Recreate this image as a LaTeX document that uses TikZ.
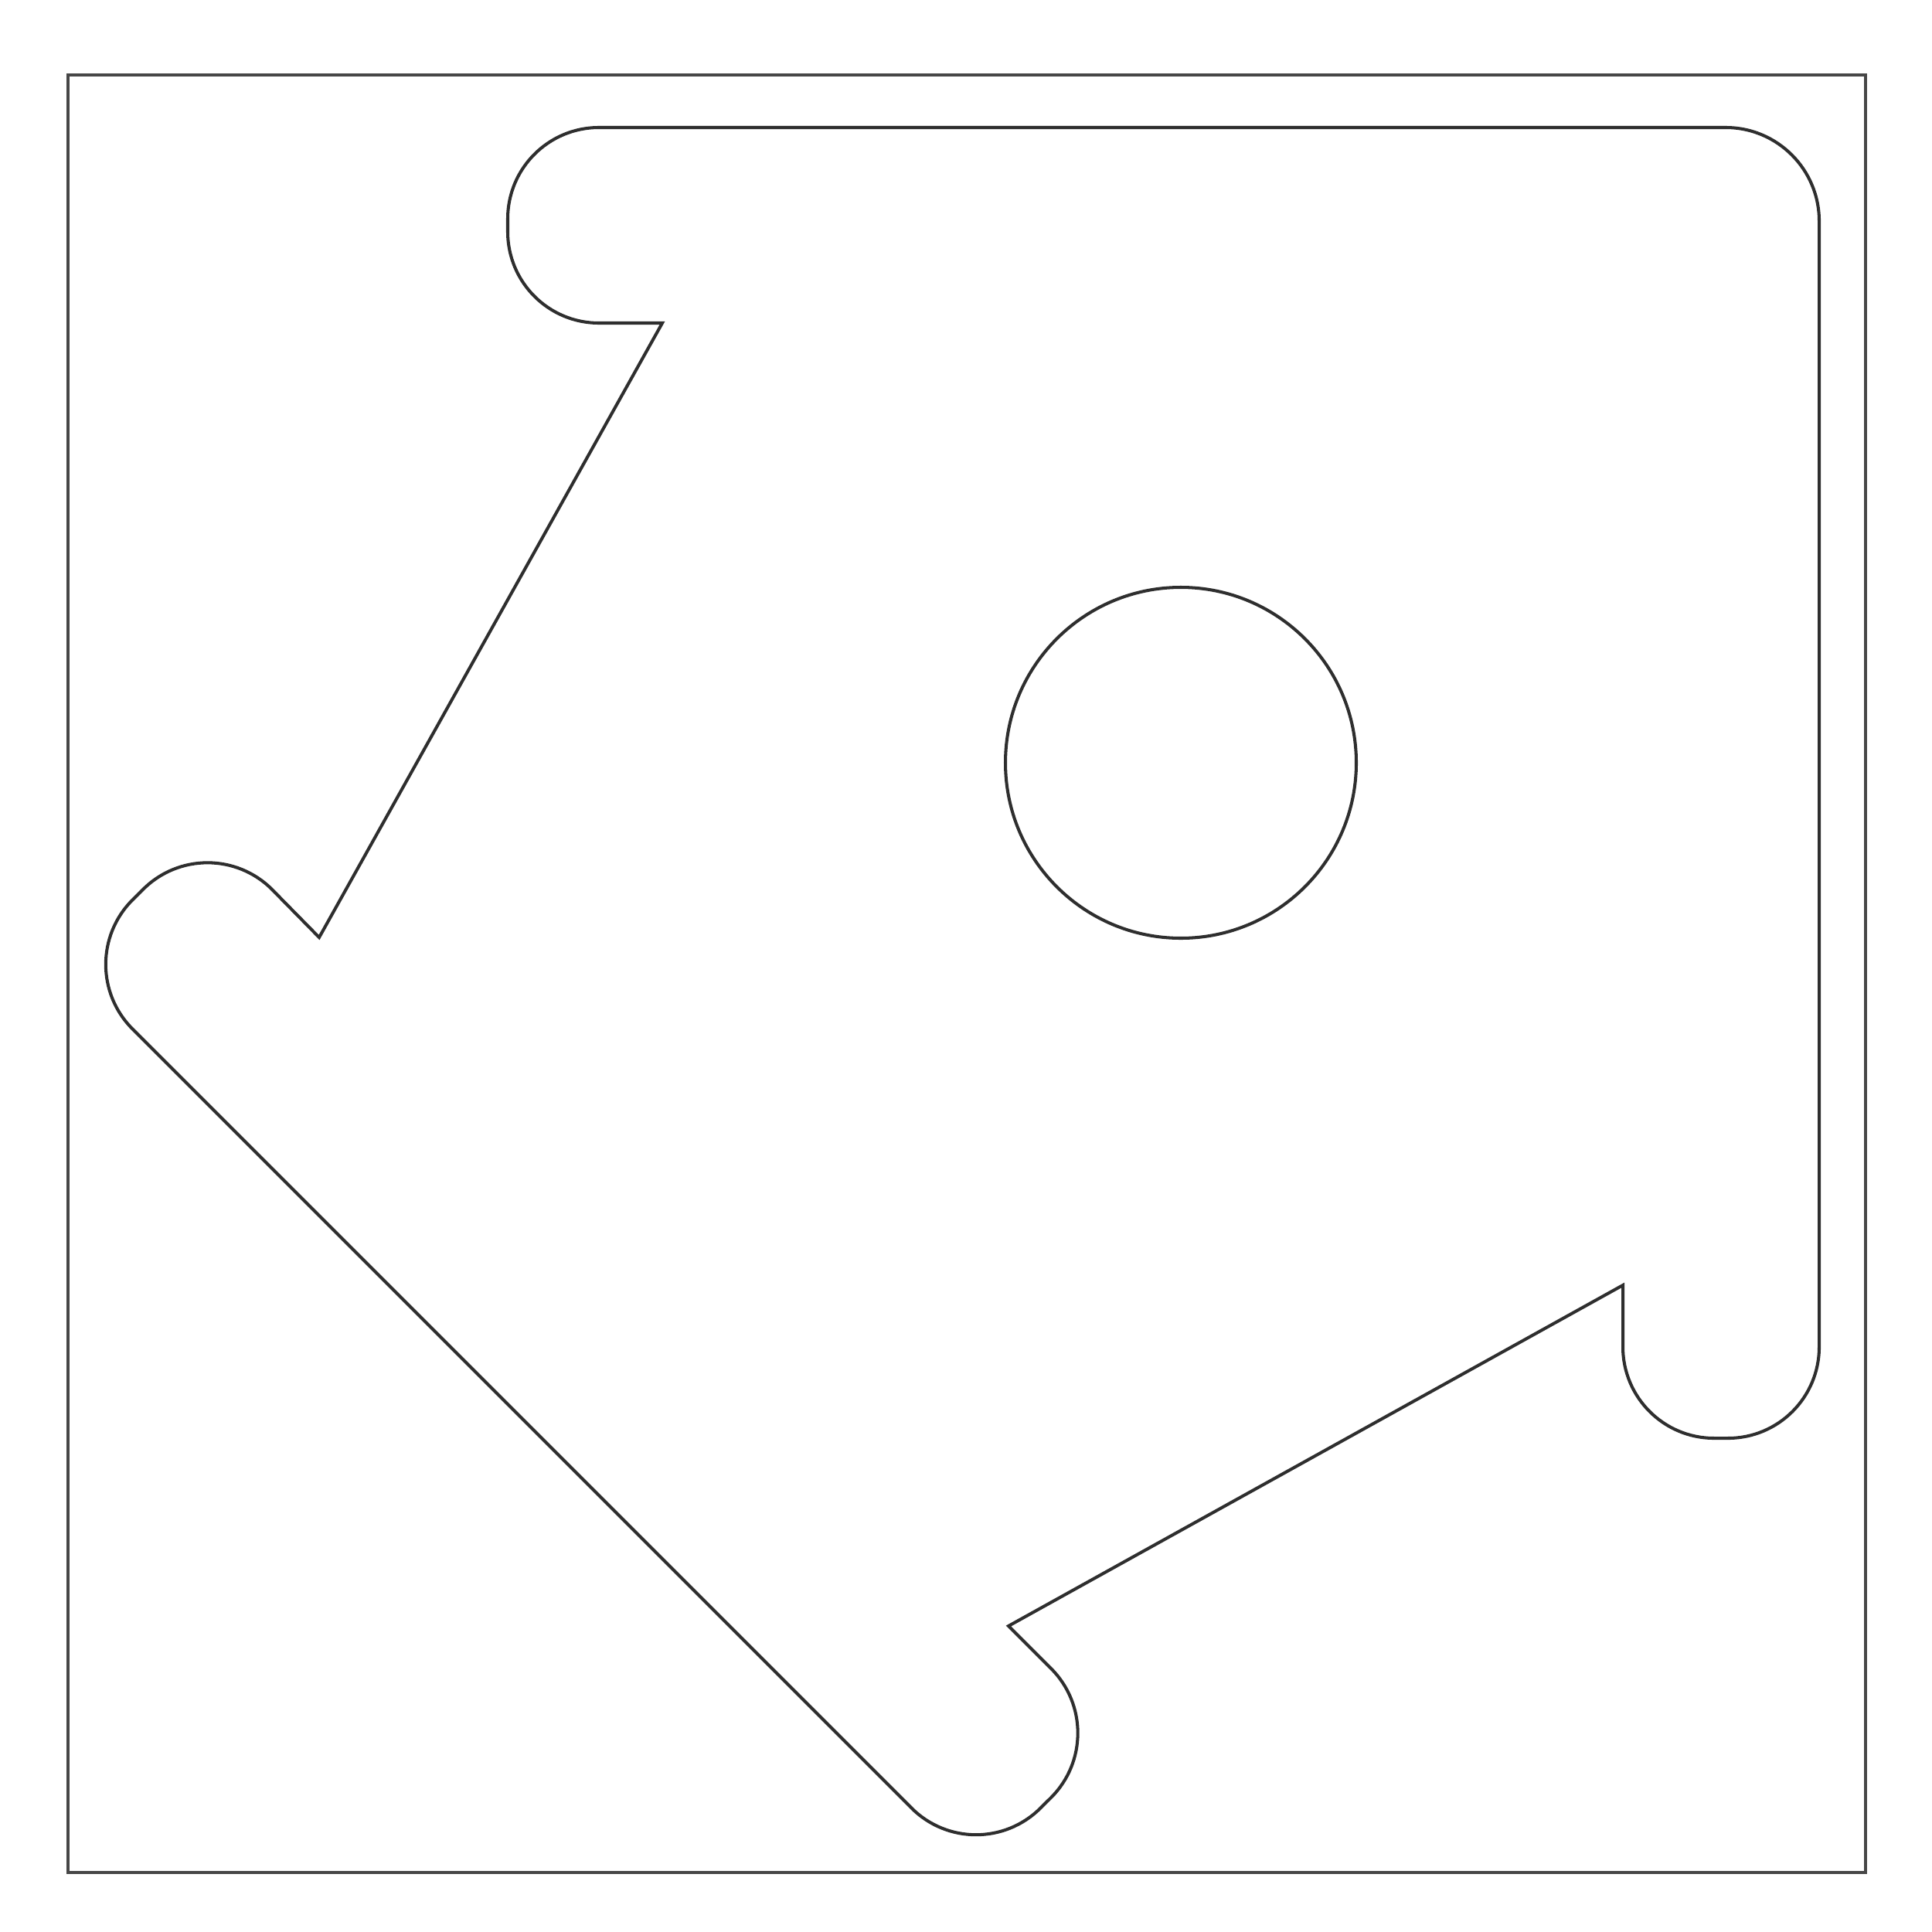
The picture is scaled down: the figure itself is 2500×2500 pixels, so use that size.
\documentclass[tikz,border=0pt]{standalone}
\begin{document}
\begin{tikzpicture}[x=0.01cm,y=-0.01cm,
  shapeline/.style={draw=black!82,line width=1.15pt,line join=miter},
  frameline/.style={draw=black!72,line width=1.05pt}]
\useasboundingbox (0,0) rectangle (2500,2500);
% frame
\draw[frameline] (88,97) rectangle (2414,2423);
% outline
\draw[shapeline]
  (775,165) -- (2233,165) arc[start angle=270,end angle=360,radius=121]
  -- (2354,1743) arc[start angle=0,end angle=90,radius=118]
  -- (2218,1861) arc[start angle=90,end angle=180,radius=118]
  -- (2100,1663) -- (1305,2104)
  -- (1360.1,2159.1) arc[start angle=-45,end angle=45,radius=118]
  -- (1346.4,2339.6) arc[start angle=45,end angle=135,radius=118]
  -- (171.4,1331.4) arc[start angle=135,end angle=225,radius=118]
  -- (185.1,1150.9) arc[start angle=225,end angle=315,radius=118]
  -- (413,1213) -- (857,418)
  -- (775,418) arc[start angle=90,end angle=180,radius=118]
  -- (657,283) arc[start angle=180,end angle=270,radius=118]
  -- cycle;
% hole
\draw[shapeline] (1528,987) circle[radius=227];
\end{tikzpicture}
\end{document}
